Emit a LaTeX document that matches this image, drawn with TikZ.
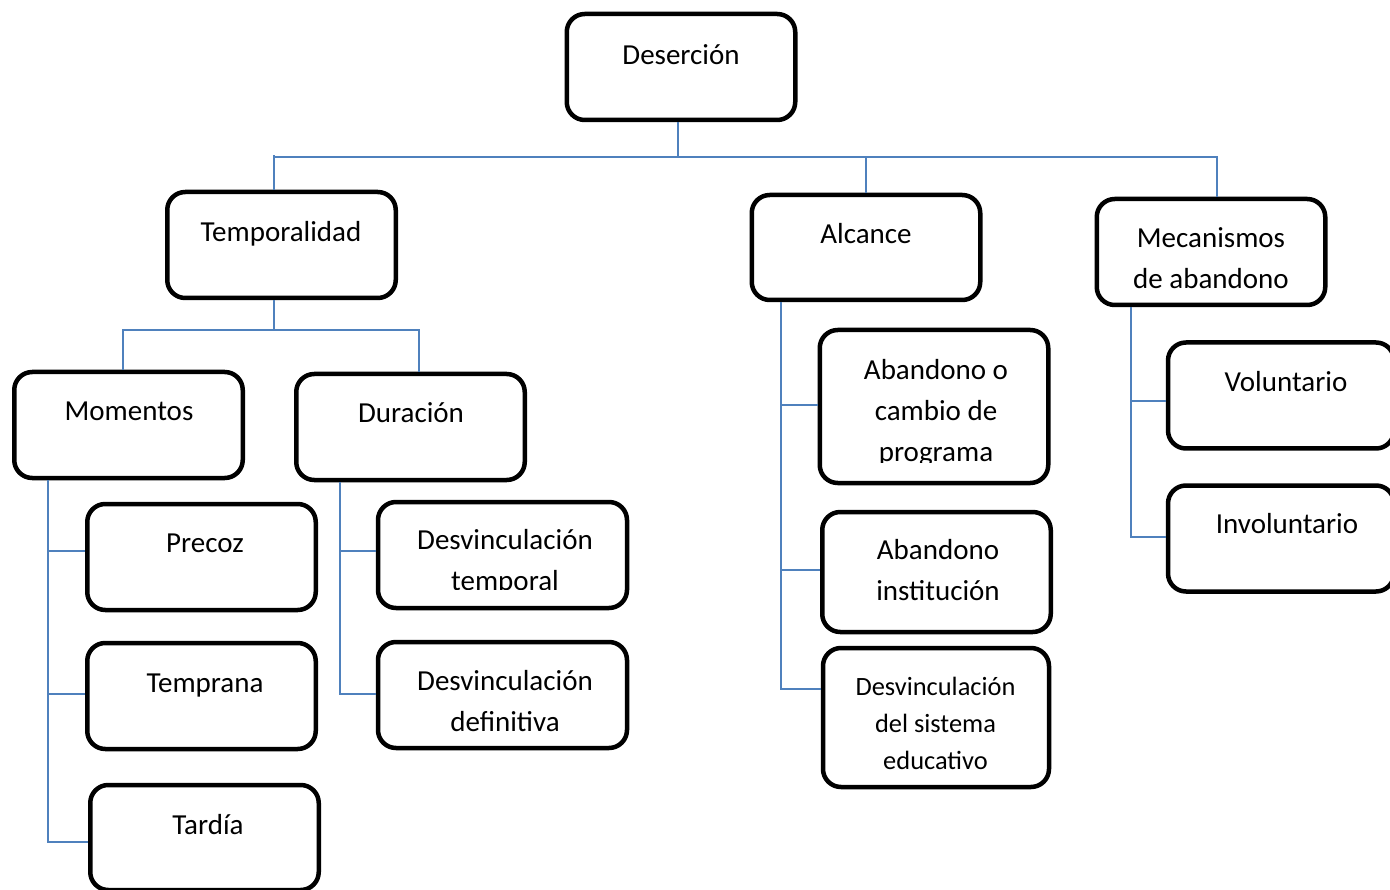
\documentclass[tikz,border=0pt]{standalone}
\usepackage{fontspec}
\setmainfont{Carlito}
\begin{document}
\begin{tikzpicture}[x=1pt,y=-1pt,
  box/.style={draw=black,line width=4.5pt,rounded corners=18pt,fill=white,
    inner sep=0pt,minimum width=228.5pt,minimum height=106pt},
  lbl/.style={align=center,anchor=north,inner sep=0pt,
    font=\fontsize{29}{41}\selectfont},
  lblsm/.style={align=center,anchor=north,inner sep=0pt,
    font=\fontsize{26.4}{37}\selectfont},
  link/.style={draw=linkblue,line width=2pt}]
\definecolor{linkblue}{HTML}{4F81BD}
\useasboundingbox (0,0) rectangle (1390,890);

% boxes
\node[box] (des) at (681,67) {};
\node[box] (tem) at (281.5,245) {};
\node[box,minimum height=105pt] (alc) at (866,247.5) {};
\node[box] (mec) at (1211,252) {};
\node[box] (mom) at (128.5,425) {};
\node[box] (dur) at (410.5,427) {};
\node[box] (pre) at (201.5,557) {};
\node[box] (tpr) at (201.5,696) {};
\node[box,minimum height=105pt] (tar) at (204.5,837.5) {};
\node[box,minimum width=249pt] (dvt) at (502.5,555) {};
\node[box,minimum width=249pt] (dvd) at (502.5,695) {};
\node[box,minimum height=153pt] (abc) at (934,406.5) {};
\node[box,minimum height=120pt] (abi) at (936.5,572) {};
\node[box,minimum width=226pt,minimum height=139pt] (dse) at (936,717.5) {};
\node[box,minimum width=226pt] (vol) at (1281,395.5) {};
\node[box,minimum width=226pt] (inv) at (1281,538.5) {};

% labels
\node[lbl] (desT) at (681,35.3) {\strut Deserción};
\node[lbl] (temT) at (281,212.3) {\strut Temporalidad};
\node[lbl] (alcT) at (866,214.3) {\strut Alcance};
\node[lbl] (mecT) at (1211,218.3) {\strut Mecanismos\\\strut de abandono};
\node[lbl] (momT) at (129,391.3) {\strut Momentos};
\node[lbl] (durT) at (411,393.3) {\strut Duración};
\node[lbl] (preT) at (205,523.3) {\strut Precoz};
\node[lbl] (tprT) at (205,663.3) {\strut Temprana};
\node[lbl] (tarT) at (208,805.3) {\strut Tardía};
\begin{scope}
  \clip (380,505) rectangle (625,589);
  \node[lbl] (dvtT) at (505,520.3) {\strut Desvinculación\\\strut temporal};
\end{scope}
\node[lbl] (dvdT) at (505,661.3) {\strut Desvinculación\\\strut definitiva};
\begin{scope}
  \clip (822,333) rectangle (1046,463);
  \node[lbl] (abcT) at (936,350.3) {\strut Abandono o\\\strut cambio de\\\strut programa};
\end{scope}
\node[lbl] (abiT) at (938,530.3) {\strut Abandono\\\strut institución};
\node[lblsm] (dseT) at (935.5,669.1) {\strut Desvinculación\\\strut del sistema\\\strut educativo};
\node[lbl] (volT) at (1286,362.3) {\strut Voluntario};
\node[lbl] (invT) at (1287,504.3) {\strut Involuntario};

% first level
\coordinate (j0) at (678,157);
\coordinate (b1) at (274,157);
\coordinate (b2) at (866,157);
\coordinate (b3) at (1217,157);
\draw[link] (j0 |- des.south) -- (j0);
\draw[link] (b1 |- tem.north) -- (274,155);
\draw[link] (b1) -- (b3) -- (b3 |- mec.north);
\draw[link] (b2) -- (b2 |- alc.north);

% Temporalidad
\coordinate (t0) at (274,330);
\coordinate (t1) at (123,330);
\coordinate (t2) at (419,330);
\draw[link] (t0 |- tem.south) -- (t0);
\draw[link] (t1 |- mom.north) -- (t1) -- (t2) -- (t2 |- dur.north);

% Momentos
\coordinate (m1) at (48,551);
\coordinate (m2) at (48,694);
\coordinate (m3) at (48,842);
\draw[link] (m1 |- mom.south) -- (m3) -- (m3 -| tar.west);
\draw[link] (m1) -- (m1 -| pre.west);
\draw[link] (m2) -- (m2 -| tpr.west);

% Duración
\coordinate (d1) at (340,551);
\coordinate (d2) at (340,694);
\draw[link] (d1 |- dur.south) -- (d2) -- (d2 -| dvd.west);
\draw[link] (d1) -- (d1 -| dvt.west);

% Alcance
\coordinate (a1) at (781,405);
\coordinate (a2) at (781,570);
\coordinate (a3) at (781,689);
\draw[link] (a1 |- alc.south) -- (a3) -- (a3 -| dse.west);
\draw[link] (a1) -- (a1 -| abc.west);
\draw[link] (a2) -- (a2 -| abi.west);

% Mecanismos de abandono
\coordinate (k1) at (1131,401);
\coordinate (k2) at (1131,537);
\draw[link] (k1 |- mec.south) -- (k2) -- (k2 -| inv.west);
\draw[link] (k1) -- (k1 -| vol.west);
\end{tikzpicture}
\end{document}
